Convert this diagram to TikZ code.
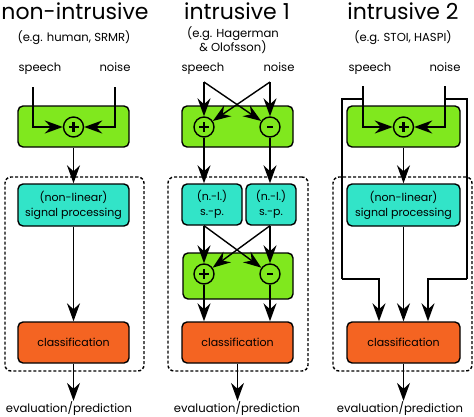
\documentclass[tikz,border=0pt]{standalone}
\usepackage{fontspec}
\setmainfont{Poppins}
\usetikzlibrary{arrows.meta}
\definecolor{lime}{RGB}{128,232,30}
\definecolor{turq}{RGB}{50,228,200}
\definecolor{orng}{RGB}{244,100,34}
\newcommand{\txt}{\fontsize{11}{15}\selectfont}
\newcommand{\lbltxt}{\fontsize{11.6}{15}\selectfont}
\tikzset{
 ln/.style={line width=1.4pt},
 arr/.style={ln, -{Stealth[length=18pt,width=13pt,inset=6pt]}},
 gbox/.style={draw, ln, rounded corners=5pt, fill=lime, inner sep=0pt},
 cbox/.style={draw, ln, rounded corners=5pt, fill=turq, align=center, font=\txt, inner sep=0pt},
 obox/.style={draw, ln, rounded corners=5pt, fill=orng, font=\txt, inner sep=0pt},
 dbox/.style={draw, ln, dash pattern=on 3pt off 2pt, rounded corners=6pt, inner sep=0pt},
 sumc/.style={draw, ln, circle, minimum size=20pt, inner sep=0pt, fill=lime},
 ttl/.style={font=\fontsize{22}{26}\selectfont, anchor=base, inner sep=0pt},
 lbl/.style={font=\lbltxt, anchor=base, inner sep=0pt},
 sym/.style={line width=2.2pt},
}
\newcommand{\plussym}[1]{\draw[sym] ([xshift=-5pt]#1.center) -- ([xshift=5pt]#1.center); \draw[sym] ([yshift=-5pt]#1.center) -- ([yshift=5pt]#1.center);}
\newcommand{\minussym}[1]{\draw[sym] ([xshift=-3pt]#1.center) -- ([xshift=3pt]#1.center);}
\begin{document}
\begin{tikzpicture}[x=1pt,y=-1pt]
\useasboundingbox (0,0) rectangle (474,416);
% ---------- titles and labels
\node[ttl] (t1) at (75,19) {non-intrusive};
\node[ttl] (t2) at (237,19) {intrusive 1};
\node[ttl] (t3) at (403,19) {intrusive 2};
\node[lbl] (u1) at (74,41) {(e.g. human, SRMR)};
\node[lbl] (u2a) at (233,37) {(e.g. Hagerman};
\node[lbl] (u2b) at (233,51) {\& Olofsson)};
\node[lbl] (u3) at (403,41) {(e.g. STOI, HASPI)};
\node[lbl] (sp1) at (40,71) {speech};
\node[lbl] (no1) at (115,71) {noise};
\node[lbl] (sp2) at (203,71) {speech};
\node[lbl] (no2) at (279,71) {noise};
\node[lbl] (sp3) at (370,71) {speech};
\node[lbl] (no3) at (445,71) {noise};
\node[lbl] (e1) at (69,412) {evaluation/prediction};
\node[lbl] (e2) at (237,412) {evaluation/prediction};
\node[lbl] (e3) at (400,412) {evaluation/prediction};
% ---------- column 1
\node[dbox, minimum width=139pt, minimum height=194pt] (d1) at (74.5,274) {};
\node[gbox, minimum width=111pt, minimum height=41pt] (g1) at (73.5,126.5) {};
\node[sumc] (c1) at (73.5,127) {};
\plussym{c1}
\node[cbox, minimum width=111pt, minimum height=42pt] (p1) at (73.5,205) {(non-linear)\\signal processing};
\node[obox, minimum width=111pt, minimum height=41pt] (o1) at (73.5,342.5) {classification};
\coordinate (s1) at (33,87);
\coordinate (n1) at (115,87);
\draw[arr] (s1) |- (c1.west);
\draw[arr] (n1) |- (c1.east);
\draw[arr] (g1) -- (p1);
\draw[arr] (p1) -- (o1);
\draw[arr] (o1) -- (o1.south |- e1.north);
% ---------- column 2
\node[dbox, minimum width=140pt, minimum height=194pt] (d2) at (238,274) {};
\node[gbox, minimum width=111pt, minimum height=41pt] (g2) at (237.5,126.5) {};
\node[sumc] (c2p) at (204,127) {};
\node[sumc] (c2m) at (270,127) {};
\plussym{c2p}
\minussym{c2m}
\coordinate (s2) at (204,82);
\coordinate (n2) at (270,82);
\draw[arr] (s2) -- (c2p);
\draw[arr] (s2) -- (c2m);
\draw[arr] (n2) -- (c2m);
\draw[arr] (n2) -- (c2p);
\node[cbox, minimum width=60pt, minimum height=41pt] (q1) at (212,204.5) {(n.-l.)\\s.-p.};
\node[cbox, minimum width=50pt, minimum height=41pt] (q2) at (271,204.5) {(n.-l.)\\s.-p.};
\draw[arr] (c2p) -- (c2p |- q1.north);
\draw[arr] (c2m) -- (c2m |- q2.north);
\node[gbox, minimum width=110pt, minimum height=46pt] (g4) at (238,276) {};
\node[sumc] (c3p) at (204,274) {};
\node[sumc] (c3m) at (270,274) {};
\plussym{c3p}
\minussym{c3m}
\draw[arr] (q1.south -| c3p) -- (c3p);
\draw[arr] (q1.south -| c3p) -- (c3m);
\draw[arr] (q2.south -| c3m) -- (c3m);
\draw[arr] (q2.south -| c3m) -- (c3p);
\node[obox, minimum width=111pt, minimum height=41pt] (o2) at (237.5,342.5) {classification};
\draw[arr] (c3p) -- (c3p |- o2.north);
\draw[arr] (c3m) -- (c3m |- o2.north);
\draw[arr] (o2) -- (o2.south |- e2.north);
% ---------- column 3
\node[dbox, minimum width=139pt, minimum height=194pt] (d3) at (402.5,274) {};
\coordinate (s3) at (363,86);
\coordinate (n3) at (445,86);
\coordinate (j3l) at (363,99);
\coordinate (j3r) at (445,99);
\coordinate (l3) at (342,279);
\coordinate (r3) at (467,279);
\draw[ln] (j3l) -| (l3);
\draw[ln] (j3r) -| (r3);
\node[gbox, minimum width=113pt, minimum height=41pt] (g3) at (403.5,126.5) {};
\node[sumc] (c4) at (403.5,127) {};
\plussym{c4}
\node[cbox, minimum width=113pt, minimum height=42pt] (p3) at (403.5,205) {(non-linear)\\signal processing};
\node[obox, minimum width=113pt, minimum height=41pt] (o3) at (403.5,342.5) {classification};
\draw[arr] (s3) |- (c4.west);
\draw[arr] (n3) |- (c4.east);
\draw[arr] (l3) -| ([xshift=-24.5pt]o3.north);
\draw[arr] (r3) -| ([xshift=24.5pt]o3.north);
\draw[arr] (g3) -- (p3);
\draw[arr] (p3) -- (o3);
\draw[arr] (o3) -- (o3.south |- e3.north);
\end{tikzpicture}
\end{document}
